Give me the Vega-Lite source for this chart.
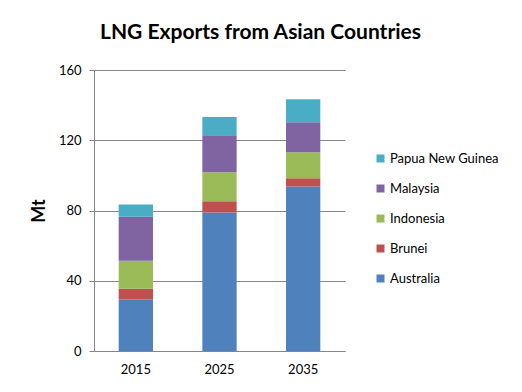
{
  "$schema": "https://vega.github.io/schema/vega-lite/v6.json",
  "autosize": "none",
  "width": 251,
  "height": 281,
  "padding": {"left": 94, "top": 70, "right": 177, "bottom": 41},
  "background": "white",
  "title": {
    "text": "LNG Exports from Asian Countries",
    "font": "Lato",
    "fontSize": 21,
    "fontWeight": "bold",
    "color": "#000000",
    "anchor": "middle",
    "dx": 41,
    "offset": 21
  },
  "data": {
    "values": [
      {"year": "2015", "country": "Australia", "ord": 1, "mt": 29.3},
      {"year": "2015", "country": "Brunei", "ord": 2, "mt": 6.1},
      {"year": "2015", "country": "Indonesia", "ord": 3, "mt": 16.0},
      {"year": "2015", "country": "Malaysia", "ord": 4, "mt": 25.1},
      {"year": "2015", "country": "Papua New Guinea", "ord": 5, "mt": 6.9},
      {"year": "2025", "country": "Australia", "ord": 1, "mt": 78.9},
      {"year": "2025", "country": "Brunei", "ord": 2, "mt": 6.3},
      {"year": "2025", "country": "Indonesia", "ord": 3, "mt": 16.6},
      {"year": "2025", "country": "Malaysia", "ord": 4, "mt": 21.1},
      {"year": "2025", "country": "Papua New Guinea", "ord": 5, "mt": 10.3},
      {"year": "2035", "country": "Australia", "ord": 1, "mt": 93.7},
      {"year": "2035", "country": "Brunei", "ord": 2, "mt": 4.6},
      {"year": "2035", "country": "Indonesia", "ord": 3, "mt": 14.9},
      {"year": "2035", "country": "Malaysia", "ord": 4, "mt": 17.1},
      {"year": "2035", "country": "Papua New Guinea", "ord": 5, "mt": 13.1}
    ]
  },
  "mark": {"type": "bar"},
  "encoding": {
    "x": {
      "field": "year",
      "type": "nominal",
      "scale": {"paddingInner": 0.59, "paddingOuter": 0.295},
      "axis": {
        "title": null,
        "labelAngle": 0,
        "labelFont": "Lato",
        "labelFontSize": 13,
        "labelColor": "#000000",
        "labelPadding": 12,
        "ticks": false,
        "domainColor": "#868686",
        "domainWidth": 1
      }
    },
    "y": {
      "field": "mt",
      "type": "quantitative",
      "stack": "zero",
      "scale": {"domain": [0, 160], "nice": false},
      "axis": {
        "title": "Mt",
        "titleFont": "Lato",
        "titleFontSize": 18,
        "titleFontWeight": "bold",
        "titleColor": "#000000",
        "titlePadding": 10,
        "values": [0, 40, 80, 120, 160],
        "labelFont": "Lato",
        "labelFontSize": 13,
        "labelColor": "#000000",
        "labelPadding": 8,
        "tickSize": 5,
        "tickColor": "#868686",
        "domainColor": "#868686",
        "gridColor": "#868686",
        "grid": true
      }
    },
    "color": {
      "field": "country",
      "type": "nominal",
      "scale": {
        "domain": ["Papua New Guinea", "Malaysia", "Indonesia", "Brunei", "Australia"],
        "range": ["#4BACC6", "#8064A2", "#9BBB59", "#C0504D", "#4F81BD"]
      },
      "legend": {
        "title": null,
        "orient": "none",
        "legendX": 280,
        "legendY": 82,
        "symbolType": "square",
        "symbolSize": 64,
        "symbolStrokeWidth": 0,
        "labelFont": "Lato",
        "labelFontSize": 13,
        "labelColor": "#000000",
        "rowPadding": 16,
        "labelOffset": 3
      }
    },
    "order": {"field": "ord", "type": "quantitative"}
  },
  "config": {
    "view": {"stroke": null}
  }
}
